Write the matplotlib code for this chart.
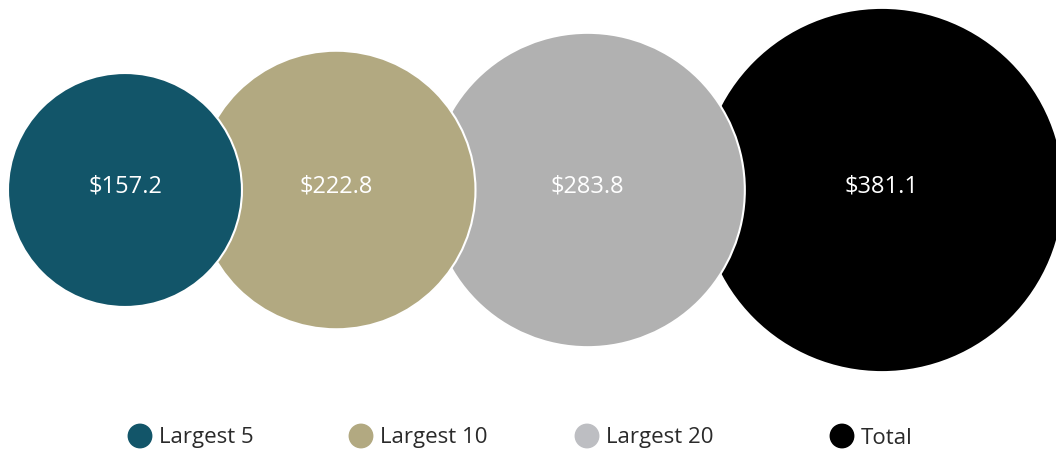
import numpy as np
import matplotlib.pyplot as plt
from matplotlib.patches import Circle

plt.rcParams['font.family'] = ['Open Sans', 'DejaVu Sans']

# Asset totals for each group
groups = ['Largest 5', 'Largest 10', 'Largest 20', 'Total']
values = [157.2, 222.8, 283.8, 381.1]
labels = ['$157.2', '$222.8', '$283.8', '$381.1']
colors = ['#125569', '#b2a981', '#b1b1b1', '#000000']
legend_colors = ['#125569', '#b2a981', '#bdbec2', '#000000']

W, H = 1056, 457
RADIUS_SCALE = 9.33   # px per sqrt(value), so circle area tracks value
OVERLAP = 45          # px each circle tucks under its neighbour
CY = 190
LEFT = 8

fig = plt.figure(figsize=(W / 100, H / 100), dpi=100)
ax = fig.add_axes([0, 0, 1, 1])
ax.set_xlim(0, W)
ax.set_ylim(H, 0)
ax.set_aspect('equal')
ax.axis('off')

radii = RADIUS_SCALE * np.sqrt(values)
centers = []
x = LEFT + radii[0]
for i, r in enumerate(radii):
    if i > 0:
        x = x + radii[i - 1] + r - OVERLAP
    centers.append(x)

# draw biggest first so the smaller circles sit on top
for i in reversed(range(len(values))):
    ax.add_patch(Circle((centers[i], CY), radii[i], facecolor=colors[i],
                        edgecolor='white', linewidth=1.5, zorder=2 + (len(values) - i)))
    ax.text(centers[i], CY - 3, labels[i], color='white', fontsize=17,
            ha='center', va='center', zorder=10)

# legend row
legend_x = [140, 361, 587, 842]
for lx, name, c in zip(legend_x, groups, legend_colors):
    ax.scatter([lx], [436], s=320, color=c, edgecolors='none', zorder=5)
    ax.text(lx + 19, 438, name, fontsize=16, color='#2a2a2a',
            ha='left', va='center')

fig.savefig('out.png', dpi=100)
